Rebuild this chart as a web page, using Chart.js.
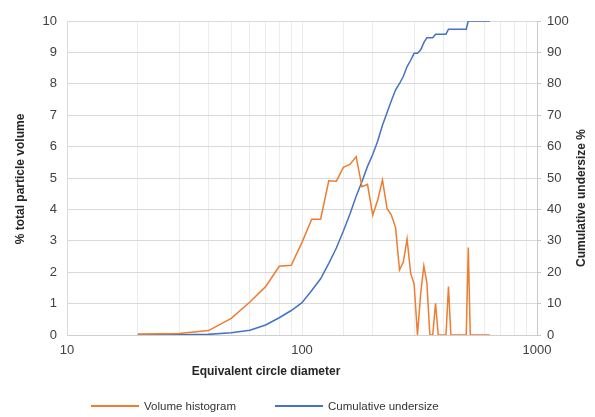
<!DOCTYPE html>
<html>
<head>
<meta charset="utf-8">
<script src="https://cdn.jsdelivr.net/npm/chart.js@4.4.1/dist/chart.umd.min.js"></script>
<style>
    body { margin: 0; background: #fff; }
    #wrap { position: relative; width: 595px; height: 417px; }
    .key { position: absolute; top: 399px; font: 11.5px "Liberation Sans", Arial, sans-serif; color: #333; white-space: nowrap; line-height: 14px; }
    .swatch { display: inline-block; width: 48px; height: 1.5px; vertical-align: middle; margin-right: 5px; position: relative; top: -1px; }
</style>
</head>
<body>
<div id="wrap">
    <canvas id="psdChart" width="595" height="417"></canvas>
    <div class="key" style="left:91px"><span class="swatch" style="background:#ED7D31"></span>Volume histogram</div>
    <div class="key" style="left:275px"><span class="swatch" style="background:#4472C4"></span>Cumulative undersize</div>
</div>
<script>
// bin diameters (µm)
const diameters = [20, 30, 40, 50, 60, 70, 80, 90, 100, 110, 120, 130, 140, 150, 160, 170, 180, 190, 200,
    210, 220, 230, 240, 250, 260, 270, 280, 290, 300, 310, 320, 330, 340, 350, 360, 370, 380, 390, 400,
    410, 420, 430, 440, 450, 460, 470, 480, 490, 500, 510, 520, 530, 540, 550, 560, 570, 580, 590, 600,
    610, 620, 630];

// % total particle volume per bin
const volumePct = [0.03, 0.05, 0.14, 0.53, 1.05, 1.54, 2.19, 2.22, 2.95, 3.69, 3.69, 4.91, 4.90, 5.34, 5.43, 5.68, 4.72, 4.80, 3.82,
    4.30, 4.94, 4.03, 3.82, 3.43, 2.07, 2.33, 3.06, 1.96, 1.62, 0, 1.33, 2.20, 1.65, 0, 0, 1.01, 0, 0, 0,
    0, 1.54, 0, 0, 0, 0, 0, 0, 0, 0, 2.79, 0, 0, 0, 0, 0, 0, 0, 0, 0,
    0, 0, 0];

// cumulative undersize %
const undersizePct = [0, 0.1, 0.2, 0.7, 1.5, 3.2, 5.5, 7.8, 10.3, 14.2, 17.9, 22.8, 27.7, 33.1, 38.5, 44.2, 48.9, 53.7, 57.5,
    61.8, 66.8, 70.8, 74.6, 78.0, 80.1, 82.4, 85.5, 87.5, 89.7, 89.7, 90.8, 93.1, 94.7, 94.7, 94.7, 95.8, 95.8, 95.8, 95.8,
    95.8, 97.4, 97.4, 97.4, 97.4, 97.4, 97.4, 97.4, 97.4, 97.4, 100, 100, 100, 100, 100, 100, 100, 100, 100, 100,
    100, 100, 100];

const xLabels = [10, 100, 1000];

const tickFont = { family: '"Liberation Sans", Arial, sans-serif', size: 13 };
const titleFont = 'bold 12px "Liberation Sans", Arial, sans-serif';

// axis titles drawn by hand so they can sit where we want them
const axisTitles = {
    id: 'axisTitles',
    afterDraw(chart) {
        const ctx = chart.ctx;
        ctx.save();
        ctx.font = titleFont;
        ctx.fillStyle = '#262626';
        ctx.textAlign = 'center';
        ctx.textBaseline = 'middle';
        ctx.fillText('Equivalent circle diameter', 266, 372);

        ctx.translate(21, 179);
        ctx.rotate(-Math.PI / 2);
        ctx.fillText('% total particle volume', 0, 0);
        ctx.restore();

        ctx.save();
        ctx.font = titleFont;
        ctx.fillStyle = '#262626';
        ctx.textAlign = 'center';
        ctx.textBaseline = 'middle';
        ctx.translate(582, 198);
        ctx.rotate(-Math.PI / 2);
        ctx.fillText('Cumulative undersize %', 0, 0);
        ctx.restore();
    }
};

const ctx = document.getElementById('psdChart').getContext('2d');
new Chart(ctx, {
    type: 'line',
    data: {
        datasets: [
            {
                label: 'Volume histogram',
                data: diameters.map((d, i) => ({ x: d, y: volumePct[i] })),
                borderColor: '#ED7D31',
                borderWidth: 1.5,
                pointRadius: 0,
                tension: 0,
                yAxisID: 'y'
            },
            {
                label: 'Cumulative undersize',
                data: diameters.map((d, i) => ({ x: d, y: undersizePct[i] })),
                borderColor: '#4472C4',
                borderWidth: 1.5,
                pointRadius: 0,
                tension: 0,
                yAxisID: 'y1'
            }
        ]
    },
    options: {
        responsive: false,
        animation: false,
        layout: { padding: { top: 21, left: 0, right: 0, bottom: 0 } },
        plugins: {
            legend: { display: false },
            tooltip: { enabled: false }
        },
        scales: {
            x: {
                type: 'logarithmic',
                position: 'bottom',
                min: 10,
                max: 1000,
                afterFit(scale) { scale.height = 82; },
                ticks: {
                    font: tickFont,
                    color: '#404040',
                    padding: 8,
                    autoSkip: false,
                    maxRotation: 0,
                    callback: v => xLabels.includes(v) ? String(v) : ''
                },
                grid: { color: '#ececec', drawTicks: false },
                border: { color: '#cfcfcf' }
            },
            y: {
                position: 'left',
                min: 0,
                max: 10,
                afterFit(scale) { scale.width = 67; },
                ticks: { stepSize: 1, font: tickFont, color: '#404040', padding: 10 },
                grid: { color: '#d9d9d9', drawTicks: false },
                border: { color: '#d9d9d9' }
            },
            y1: {
                position: 'right',
                min: 0,
                max: 100,
                afterFit(scale) { scale.width = 58; },
                ticks: { stepSize: 10, font: tickFont, color: '#404040', padding: 6 },
                grid: { drawOnChartArea: false, tickLength: 4, tickColor: '#c8c8c8' },
                border: { color: '#c8c8c8' }
            }
        }
    },
    plugins: [axisTitles]
});
</script>
</body>
</html>
